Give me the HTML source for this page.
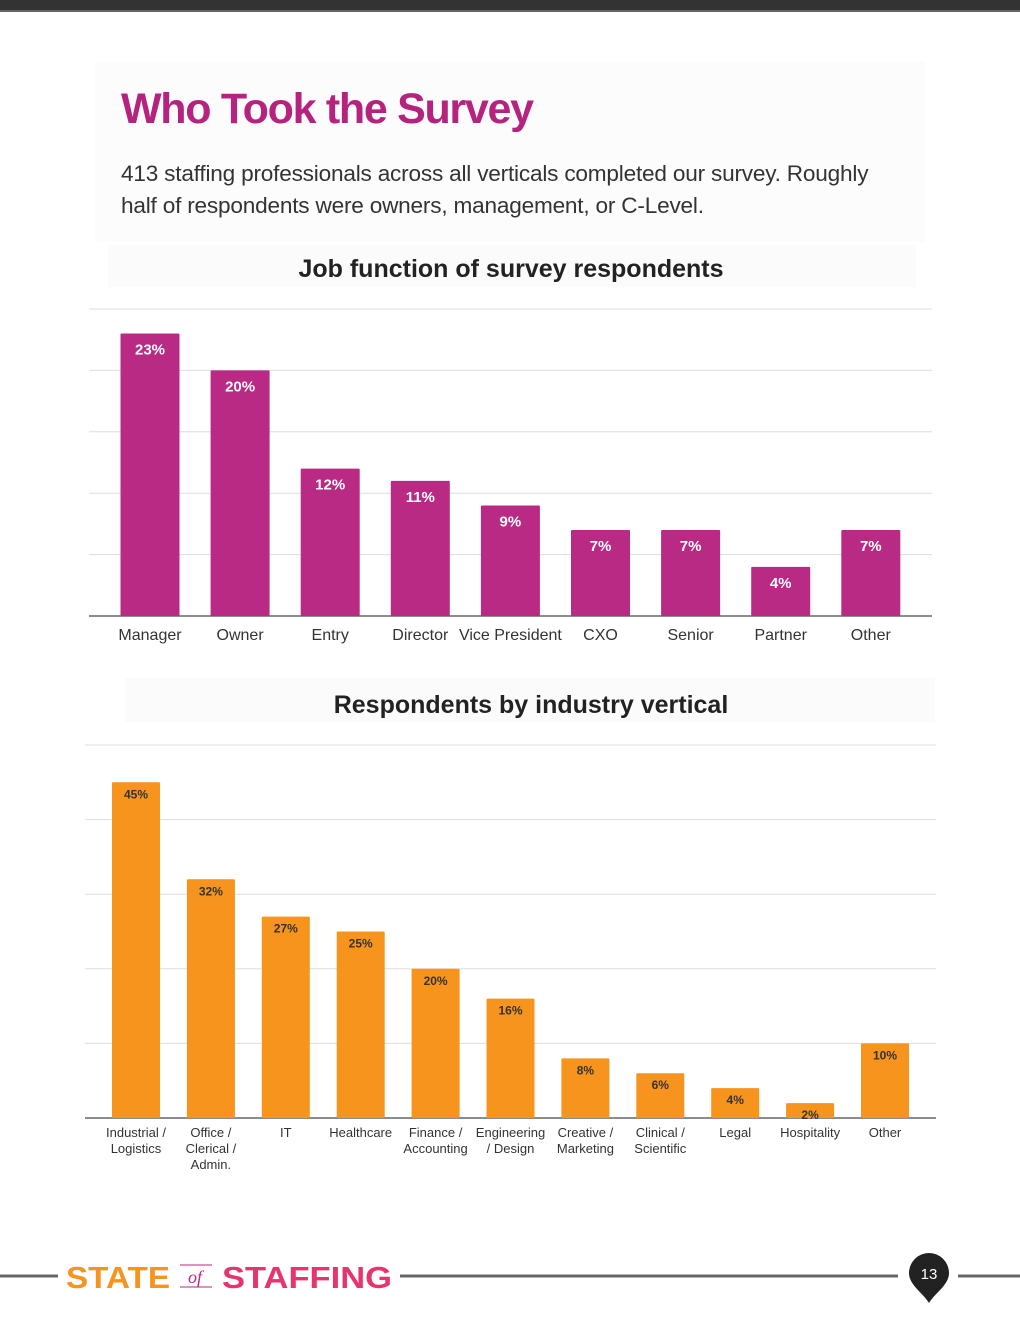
<!DOCTYPE html>
<html><head><meta charset="utf-8">
<style>
body{margin:0;width:1020px;height:1320px;background:#fff;position:relative;overflow:hidden;font-family:"Liberation Sans",sans-serif}
.abs{position:absolute}
</style></head><body>
<div class="abs" style="left:0;top:0;width:1020px;height:10px;background:#333"></div>
<div class="abs" style="left:0;top:10px;width:1020px;height:2px;background:#666"></div>
<div class="abs" style="left:95px;top:62px;width:830px;height:180px;background:#fcfcfc"></div>
<div class="abs" style="left:121px;top:85px;font-size:43px;font-weight:bold;color:#b5237f;letter-spacing:-1.3px">Who Took the Survey</div>
<div class="abs" style="left:121px;top:158px;width:775px;font-size:22.6px;line-height:32px;color:#333;letter-spacing:-0.2px">413 staffing professionals across all verticals completed our survey. Roughly half of respondents were owners, management, or C-Level.</div>

<svg class="abs" style="left:0;top:0" width="1020" height="1320" id="charts">
<rect x="108" y="245" width="808" height="42" fill="#fbfbfb"/>
<text x="511" y="277" text-anchor="middle" font-size="25" font-weight="bold" fill="#222">Job function of survey respondents</text>
<rect x="125" y="678" width="810" height="44" fill="#fbfbfb"/>
<text x="531" y="713" text-anchor="middle" font-size="25" font-weight="bold" fill="#222">Respondents by industry vertical</text>
<g id="c1"></g><g id="c2"></g>
<g>
<line x1="0" y1="1276" x2="58" y2="1276" stroke="#666" stroke-width="3"/>
<line x1="400" y1="1276" x2="898" y2="1276" stroke="#666" stroke-width="3"/>
<line x1="958" y1="1276" x2="1020" y2="1276" stroke="#666" stroke-width="3"/>
<text x="66" y="1288" font-size="31" font-weight="bold" fill="#f7941d" textLength="104" lengthAdjust="spacingAndGlyphs">STATE</text>
<text x="188" y="1283" font-size="18" font-style="italic" font-family="Liberation Serif" fill="#c0267e">of</text>
<line x1="180" y1="1287" x2="212" y2="1287" stroke="#c0267e" stroke-width="1"/>
<line x1="180" y1="1265" x2="212" y2="1265" stroke="#c0267e" stroke-width="1"/>
<text x="222" y="1288" font-size="31" font-weight="bold" fill="#e8336d" textLength="170" lengthAdjust="spacingAndGlyphs">STAFFING</text>
<path d="M909,1273 a20,20 0 1,1 40,0 c0,12 -14,20 -20,30 c-6,-10 -20,-18 -20,-30z" fill="#222"/>
<text x="929" y="1279" text-anchor="middle" font-size="15" fill="#fff">13</text>
</g>
</svg>
<script>
const jobCats=["Manager","Owner","Entry","Director","Vice President","CXO","Senior","Partner","Other"];
const jobVals=[23,20,12,11,9,7,7,4,7];
const indCats=[["Industrial /","Logistics"],["Office /","Clerical /","Admin."],["IT"],["Healthcare"],["Finance /","Accounting"],["Engineering","/ Design"],["Creative /","Marketing"],["Clinical /","Scientific"],["Legal"],["Hospitality"],["Other"]];
const indVals=[45,32,27,25,20,16,8,6,4,2,10];
const NS="http://www.w3.org/2000/svg";
function mk(p,t,a){const e=document.createElementNS(NS,t);for(const k in a)e.setAttribute(k,a[k]);p.appendChild(e);return e;}
function draw(g,o){
  const y=v=>o.base-v*o.pxPer;
  for(let i=0;i<=5;i++){const gy=y(i*o.step);
    const l=mk(g,'line',{x1:o.x0,x2:o.x1,y1:gy,y2:gy,stroke:i==0?'#666':'#ddd','stroke-width':i==0?1.5:1});
    
    }
  o.vals.forEach((v,i)=>{
    const cx=o.c0+i*o.sp;
    const r=mk(g,'rect',{x:cx-o.w/2,y:y(v),width:o.w,height:o.base-y(v),fill:o.color,rx:1});
    
    
    const t=mk(g,'text',{x:cx,y:y(v)+o.lblOff,'text-anchor':'middle','font-size':o.lfs,'font-weight':'bold',fill:o.lblColor});
    t.textContent=v+'%';
    
    
    const lines=Array.isArray(o.cats[i])?o.cats[i]:[o.cats[i]];
    lines.forEach((s,j)=>{const c=mk(g,'text',{x:cx,y:o.base+o.catOff+j*o.catLh,'text-anchor':'middle','font-size':o.cfs,fill:'#333'});
      c.textContent=s;
      
      });
  });
}
draw(document.getElementById('c1'),{vals:jobVals,cats:jobCats,base:616,pxPer:12.28,step:5,x0:89,x1:932,c0:150,sp:90.1,w:59,color:'#b92a85',lblColor:'#fff',lblOff:21,lfs:15,cfs:16,catOff:24,catLh:18});
draw(document.getElementById('c2'),{vals:indVals,cats:indCats,base:1118,pxPer:7.46,step:10,x0:85,x1:936,c0:136,sp:74.9,w:48,color:'#f7941d',lblColor:'#333',lblOff:16,lfs:12,cfs:13,catOff:19,catLh:16});
</script>
</body></html>
